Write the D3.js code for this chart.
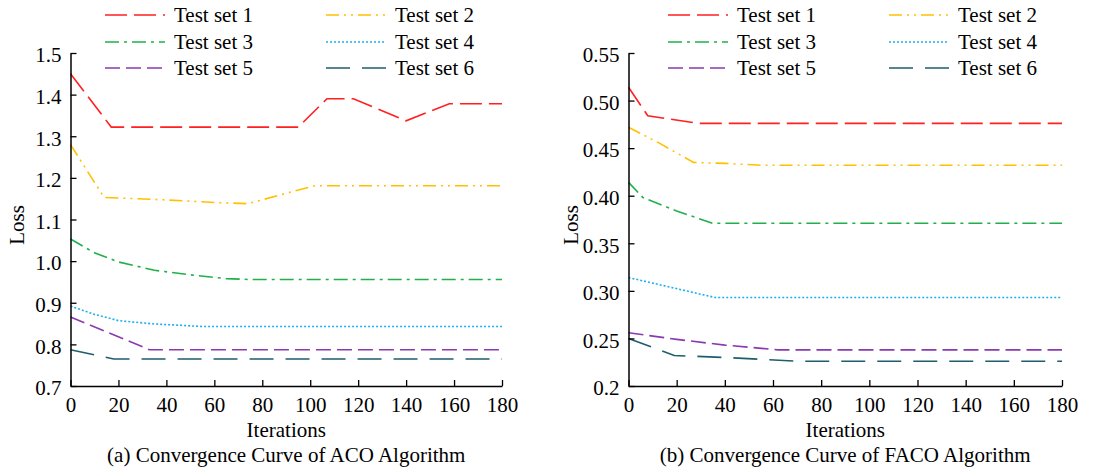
<!DOCTYPE html>
<html>
<head>
<meta charset="utf-8">
<script src="https://cdn.jsdelivr.net/npm/d3@7"></script>
<style>
  body { margin: 0; background: #fff; }
  svg { display: block; }
  text { font-family: "Liberation Serif", "Times New Roman", serif; fill: #000; }
</style>
</head>
<body>
<svg id="chart" width="1098" height="472"></svg>
<script>
// series names and styles
var seriesNames = ["Test set 1", "Test set 2", "Test set 3", "Test set 4", "Test set 5", "Test set 6"];
var colors = ["#ff2020", "#ffc000", "#1fb04a", "#1ab0ee", "#8a3ab0", "#1d5e6c"];
var dashes = ["22,7", "13,5,2,5,2,5", "14,5,3,5", "2,2", "15,6", "24,12"];

// ACO (iteration, loss) pairs
var aco1 = [[0,1.45],[17,1.322],[95,1.322],[107,1.39],[118,1.39],[140,1.337],[158,1.378],[180,1.378]];
var aco2 = [[0,1.28],[14,1.153],[40,1.147],[60,1.141],[74,1.138],[90,1.163],[102,1.181],[180,1.181]];
var aco3 = [[0,1.053],[10,1.02],[20,0.998],[35,0.978],[50,0.967],[65,0.958],[74,0.956],[180,0.956]];
var aco4 = [[0,0.892],[10,0.872],[20,0.857],[35,0.849],[55,0.843],[180,0.843]];
var aco5 = [[0,0.866],[33,0.787],[180,0.787]];
var aco6 = [[0,0.787],[18,0.765],[180,0.765]];

// FACO (iteration, loss) pairs
var faco1 = [[0,0.514],[8,0.484],[29,0.476],[180,0.476]];
var faco2 = [[0,0.472],[13,0.455],[27,0.435],[40,0.434],[55,0.432],[180,0.432]];
var faco3 = [[0,0.414],[6,0.398],[20,0.384],[35,0.371],[180,0.371]];
var faco4 = [[0,0.314],[36,0.293],[180,0.293]];
var faco5 = [[0,0.256],[20,0.249],[40,0.243],[62,0.238],[180,0.238]];
var faco6 = [[0,0.250],[19,0.232],[40,0.230],[70,0.226],[180,0.226]];

var xTicks = [0, 20, 40, 60, 80, 100, 120, 140, 160, 180];
var acoTicks = [0.7, 0.8, 0.9, 1.0, 1.1, 1.2, 1.3, 1.4, 1.5];
var acoTickLabels = ["0.7", "0.8", "0.9", "1.0", "1.1", "1.2", "1.3", "1.4", "1.5"];
var facoTicks = [0.2, 0.25, 0.3, 0.35, 0.4, 0.45, 0.5, 0.55];
var facoTickLabels = ["0.2", "0.25", "0.30", "0.35", "0.40", "0.45", "0.50", "0.55"];

var fontSize = "21px";
var svg = d3.select("#chart");

function drawPanel(opt) {
  var x = d3.scaleLinear().domain([0, 180]).range([opt.left, opt.right]);
  var y = d3.scaleLinear().domain(opt.yDomain).range([386, 53]);

  var g = svg.append("g");

  var xAxis = d3.axisBottom(x)
      .tickValues(xTicks)
      .tickSizeInner(-6)
      .tickSizeOuter(0)
      .tickPadding(11);

  var yAxis = d3.axisLeft(y)
      .tickValues(opt.ticks)
      .tickFormat(function(d, i){ return opt.tickLabels[i]; })
      .tickSizeInner(-6)
      .tickSizeOuter(0)
      .tickPadding(9);

  var line = d3.line()
      .x(function(d){ return x(d[0]); })
      .y(function(d){ return y(d[1]); });

  opt.series.forEach(function(s, i){
    g.append("path")
      .attr("d", line(s))
      .attr("fill", "none")
      .attr("stroke", colors[i])
      .attr("stroke-width", 1.6)
      .attr("stroke-dasharray", dashes[i]);
  });

  var gx = g.append("g")
      .attr("transform", "translate(0,386)")
      .call(xAxis);
  var gy = g.append("g")
      .attr("transform", "translate(" + opt.left + ",0)")
      .call(yAxis);

  [gx, gy].forEach(function(a){
    a.selectAll(".domain").attr("stroke", "#000").attr("stroke-width", 1.5);
    a.selectAll(".tick line").attr("stroke", "#000").attr("stroke-width", 1.3);
    a.selectAll("text")
      .style("font-size", fontSize)
      .attr("fill", "#000");
  });
  gy.selectAll("text").attr("dy", "0.42em");

  var cx = (opt.left + opt.right) / 2;

  g.append("text")
    .attr("x", cx)
    .attr("y", 437)
    .attr("text-anchor", "middle")
    .style("font-size", fontSize)
    .text("Iterations");

  g.append("text")
    .attr("x", cx)
    .attr("y", 462)
    .attr("text-anchor", "middle")
    .style("font-size", fontSize)
    .text(opt.caption);

  g.append("text")
    .attr("transform", "translate(" + opt.lossX + ",225) rotate(-90)")
    .attr("text-anchor", "middle")
    .style("font-size", fontSize)
    .text("Loss");

  // legend, two columns by three rows
  var rowsY = [15, 42, 68];
  seriesNames.forEach(function(name, i){
    var col = i % 2, row = Math.floor(i / 2);
    var lx = opt.legendX[col];
    g.append("line")
      .attr("x1", lx).attr("x2", lx + 60)
      .attr("y1", rowsY[row]).attr("y2", rowsY[row])
      .attr("stroke", colors[i])
      .attr("stroke-width", 1.6)
      .attr("stroke-dasharray", dashes[i]);
    g.append("text")
      .attr("x", lx + 69)
      .attr("y", rowsY[row])
      .attr("dy", "0.34em")
      .style("font-size", fontSize)
      .text(name);
  });
}

drawPanel({
  left: 70.5, right: 502,
  yDomain: [0.7, 1.5],
  ticks: acoTicks, tickLabels: acoTickLabels,
  series: [aco1, aco2, aco3, aco4, aco5, aco6],
  caption: "(a) Convergence Curve of ACO Algorithm",
  lossX: 24,
  legendX: [105, 326]
});

drawPanel({
  left: 628.5, right: 1062,
  yDomain: [0.2, 0.55],
  ticks: facoTicks, tickLabels: facoTickLabels,
  series: [faco1, faco2, faco3, faco4, faco5, faco6],
  caption: "(b) Convergence Curve of FACO Algorithm",
  lossX: 578,
  legendX: [668, 889]
});
</script>
</body>
</html>
